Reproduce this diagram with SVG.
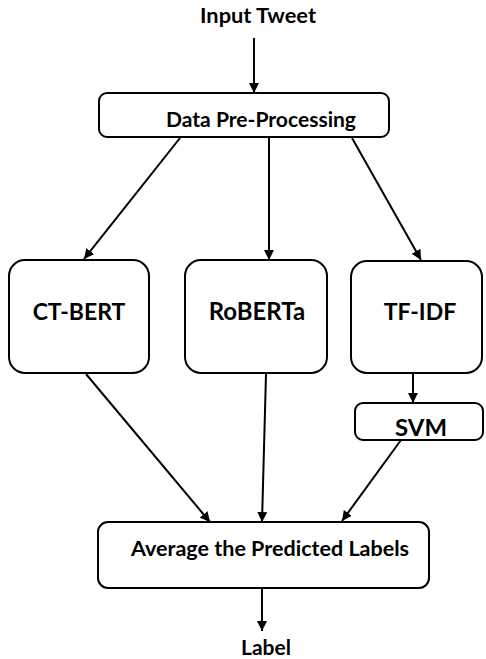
<svg xmlns="http://www.w3.org/2000/svg" width="486" height="659" viewBox="0 0 486 659">
<style>
.box{fill:#fff;stroke:#000;stroke-width:2}
.t{font-family:Lato,"Open Sans","Liberation Sans",sans-serif;font-weight:bold;fill:#000;text-anchor:middle}
.c{stroke:#000;stroke-width:2;fill:none;marker-end:url(#ah)}
</style>
<defs>
<marker id="ah" viewBox="0 0 10 10" refX="10" refY="5" markerWidth="5" markerHeight="5" orient="auto" markerUnits="strokeWidth">
<path d="M0,0 L10,5 L0,10 z" fill="#000"/>
</marker>
</defs>
<rect width="486" height="659" fill="#fff"/>
<g id="connectors">
<line class="c" x1="254" y1="38" x2="254" y2="93"/>
<line class="c" x1="180" y1="138" x2="84" y2="259"/>
<line class="c" x1="269" y1="138" x2="269" y2="260"/>
<line class="c" x1="352" y1="138" x2="421" y2="260"/>
<line class="c" x1="413" y1="374" x2="413" y2="403"/>
<line class="c" x1="86" y1="374" x2="210" y2="522"/>
<line class="c" x1="266" y1="374" x2="262" y2="522"/>
<line class="c" x1="401" y1="440" x2="342" y2="521"/>
<line class="c" x1="262" y1="588" x2="262" y2="631"/>
</g>
<g id="input"><text class="t" x="258" y="23" font-size="20" textLength="116" lengthAdjust="spacingAndGlyphs">Input Tweet</text></g>
<g id="preprocess"><rect class="box" x="99" y="93" width="290" height="44" rx="8"/><text class="t" x="261" y="127" font-size="20" textLength="190" lengthAdjust="spacingAndGlyphs">Data Pre-Processing</text></g>
<g id="ctbert"><rect class="box" x="9" y="260" width="140" height="113" rx="16"/><text class="t" x="79" y="320" font-size="23">CT-BERT</text></g>
<g id="roberta"><rect class="box" x="185" y="260" width="142" height="113" rx="16"/><text class="t" x="257" y="320" font-size="24">RoBERTa</text></g>
<g id="tfidf"><rect class="box" x="351" y="261" width="131" height="112" rx="16"/><text class="t" x="420" y="320" font-size="23">TF-IDF</text></g>
<g id="svm"><rect class="box" x="355" y="403" width="128" height="37" rx="8"/><text class="t" x="421" y="436" font-size="22" textLength="52" lengthAdjust="spacingAndGlyphs">SVM</text></g>
<g id="average"><rect class="box" x="98" y="522" width="331" height="66" rx="10"/><text class="t" x="270" y="556" font-size="20" textLength="278" lengthAdjust="spacingAndGlyphs">Average the Predicted Labels</text></g>
<g id="label"><text class="t" x="266" y="655" font-size="21">Label</text></g>
</svg>
